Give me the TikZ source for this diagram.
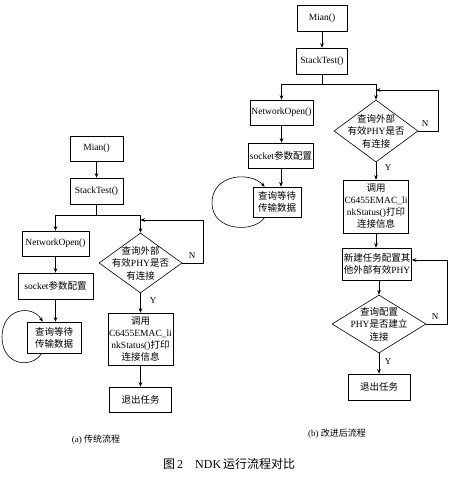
\documentclass[tikz,border=0pt]{standalone}
\usepackage{fontspec}
\setmainfont{Liberation Serif}
\newfontfamily\cjkfont{Noto Sans CJK SC}
\newcommand\zhtext[1]{{\cjkfont #1}}
\usetikzlibrary{arrows.meta,shapes.geometric}
\begin{document}
\begin{tikzpicture}[x=1pt,y=-1pt,
  box/.style={draw, line width=0.6pt, inner sep=1pt, align=center, font=\fontsize{9.5}{12}\selectfont},
  dia/.style={draw, diamond, line width=0.6pt, inner sep=0pt},
  dtext/.style={align=center, inner sep=0pt, font=\fontsize{9.5}{12.5}\selectfont},
  arr/.style={-{Stealth[length=4.5pt,width=3.6pt]}, line width=0.6pt},
  ln/.style={line width=0.6pt},
  lab/.style={inner sep=0pt, font=\fontsize{9}{10}\selectfont},
  captext/.style={inner sep=0pt, font=\fontsize{9}{10}\selectfont}]
\useasboundingbox[fill=white] (0,0) rectangle (450,482);

% ---------- (a) ----------
\node[box, minimum width=53pt, minimum height=25pt] (m1) at (96.5,148.5) {Mian()};
\node[box, minimum width=53pt, minimum height=26pt] (s1) at (96.5,191) {StackTest()};
\node[box, minimum width=67pt, minimum height=25pt] (n1) at (55.5,243.5) {NetworkOpen()};
\node[box, minimum width=75pt, minimum height=26pt] (k1) at (55.5,286) {socket\zhtext{参数配置}};
\node[box, minimum width=54pt, minimum height=31pt] (w1) at (54,337.5) {\zhtext{查询等待}\\\zhtext{传输数据}};
\node[dia, minimum width=83pt, minimum height=60pt] (d1) at (140.5,263) {};
\node[dtext] (d1t) at (d1) {\zhtext{查询外部}\\\zhtext{有效}PHY\zhtext{是否}\\\zhtext{有连接}};
\node[box, minimum width=65pt, minimum height=52pt] (c1) at (140.5,339) {\zhtext{调用}\\C6455EMAC\_li\\nkStatus()\zhtext{打印}\\\zhtext{连接信息}};
\node[box, minimum width=62pt, minimum height=25pt] (e1) at (140.5,399.5) {\zhtext{退出任务}};

\coordinate (sp1) at (96.5,215);
\coordinate (nl1) at (203,220);
\draw[arr] (m1) -- (s1);
\draw[ln] (s1.south) -- (sp1);
\draw[arr] (sp1) -| (n1.north);
\draw[arr] (sp1) -| (d1.north);
\draw[arr] (n1) -- (k1);
\draw[arr] (k1.south) -- (k1.south |- w1.north);
\draw[arr] (d1.east) -| (nl1) -- (nl1 -| d1.north);
\draw[arr] (d1.south) -- (c1.north);
\draw[arr] (c1) -- (e1);
\draw[arr] ([xshift=15pt]w1.south west) .. controls (32,369) and (2,366) .. (2,337)
   .. controls (2,308) and (32,304) .. ([xshift=16pt]w1.north west);
\node[lab] (na) at (192,256) {N};
\node[lab] (ya) at (153,301) {Y};
\node[captext] (capa) at (96,440) {(a)\ \zhtext{传统流程}};

% ---------- (b) ----------
\node[box, minimum width=50pt, minimum height=26pt] (m2) at (322,18) {Mian()};
\node[box, minimum width=51pt, minimum height=26pt] (s2) at (322,61) {StackTest()};
\node[box, minimum width=63pt, minimum height=25pt] (n2) at (281.5,112.5) {NetworkOpen()};
\node[box, minimum width=65pt, minimum height=25pt] (k2) at (281,155.5) {socket\zhtext{参数配置}};
\node[box, minimum width=48pt, minimum height=30pt] (w2) at (277,202) {\zhtext{查询等待}\\\zhtext{传输数据}};
\node[dia, minimum width=84pt, minimum height=62pt] (d2) at (376,131) {};
\node[dtext] (d2t) at (d2) {\zhtext{查询外部}\\\zhtext{有效}PHY\zhtext{是否}\\\zhtext{有连接}};
\node[box, minimum width=64pt, minimum height=53pt] (c2) at (376,206.5) {\zhtext{调用}\\C6455EMAC\_li\\nkStatus()\zhtext{打印}\\\zhtext{连接信息}};
\node[box, minimum width=69pt, minimum height=32pt] (t2) at (377,264) {\zhtext{新建任务配置其}\\\zhtext{他外部有效}PHY};
\node[dia, minimum width=94pt, minimum height=58pt] (d3) at (379,324) {};
\node[dtext] (d3t) at (d3) {\zhtext{查询配置}\\PHY\zhtext{是否建立}\\\zhtext{连接}};
\node[box, minimum width=62pt, minimum height=26pt] (e2) at (379,387) {\zhtext{退出任务}};

\coordinate (sp2) at (322,84);
\coordinate (nl2) at (438,90);
\coordinate (nl3) at (447,260);
\draw[arr] (m2) -- (s2);
\draw[ln] (s2.south) -- (sp2);
\draw[arr] (sp2) -| (n2.north);
\draw[arr] (sp2) -| (d2.north);
\draw[arr] (n2.south) -- (n2.south |- k2.north);
\draw[arr] (k2.south) -- (k2.south |- w2.north);
\draw[arr] (d2.east) -| (nl2) -- (nl2 -| d2.north);
\draw[arr] (d2.south) -- (c2.north);
\draw[arr] (c2.south) -- (c2.south |- t2.north);
\draw[arr] (t2.south -| d3.north) -- (d3.north);
\draw[arr] (d3.east) -| (nl3) -- (nl3 -| t2.east);
\draw[arr] (d3.south) -- (e2.north);
\draw[arr] ([xshift=12pt]w2.south west) .. controls (255,233) and (212,232) .. (212,203)
   .. controls (212,174) and (250,171) .. ([xshift=12pt]w2.north west);
\node[lab] (nb) at (425,124) {N};
\node[lab] (yb) at (388,168) {Y};
\node[lab] (nc) at (435,317) {N};
\node[lab] (yc) at (388,362) {Y};
\node[captext] (capb) at (337,434) {(b)\ \zhtext{改进后流程}};

\node[anchor=west, inner sep=0pt, font=\fontsize{12}{14}\selectfont] (fig) at (163,464) {\zhtext{图}\,2\quad NDK\,\zhtext{运行流程对比}};
\end{tikzpicture}
\end{document}
